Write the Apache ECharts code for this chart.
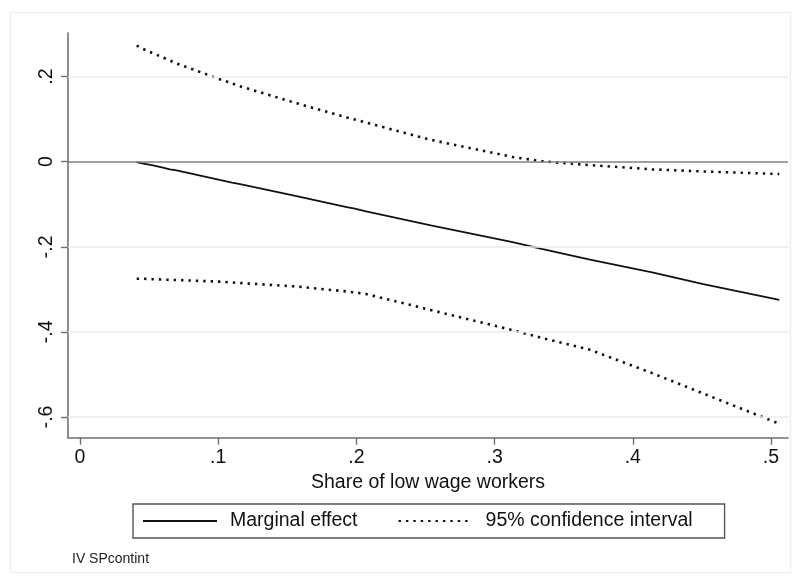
<!DOCTYPE html>
<html>
<head>
<meta charset="utf-8">
<script src="https://cdn.jsdelivr.net/npm/echarts@6/dist/echarts.min.js"></script>
<style>
html,body{margin:0;padding:0;background:#fff;}
#chart{width:801px;height:584px;}
</style>
</head>
<body>
<div id="chart"></div>
<script>
// ---- data ----
const shareLowWage = [0.041, 0.045, 0.052, 0.060, 0.065, 0.069, 0.101, 0.110, 0.115, 0.155,
                      0.193, 0.198, 0.207, 0.253, 0.313, 0.334, 0.369, 0.414, 0.451, 0.506];
const marginalEffect = [-0.001, -0.004, -0.008, -0.014, -0.018, -0.020, -0.043, -0.049, -0.052, -0.080,
                        -0.107, -0.110, -0.117, -0.149, -0.189, -0.205, -0.230, -0.260, -0.288, -0.325];
const ciUpper = [0.273, 0.266, 0.256, 0.245, 0.238, 0.232, 0.194, 0.184, 0.178, 0.139,
                 0.104, 0.100, 0.092, 0.052, 0.011, 0.001, -0.008, -0.018, -0.023, -0.029];
const ciLower = [-0.275, -0.275, -0.276, -0.277, -0.278, -0.278, -0.282, -0.284, -0.285, -0.293,
                 -0.305, -0.307, -0.311, -0.348, -0.396, -0.414, -0.442, -0.497, -0.545, -0.616];
const xTickValues = [0, 0.1, 0.2, 0.3, 0.4, 0.5];
const yTickValues = [-0.6, -0.4, -0.2, 0, 0.2];
const xTitle = 'Share of low wage workers';
const legendNames = ['Marginal effect', '95% confidence interval'];
const noteText = 'IV SPcontint';

function stataFmt(v) {
  const r = Math.round(v * 10) / 10;
  if (r === 0) return '0';
  return (r < 0 ? '-' : '') + String(Math.abs(r)).replace(/^0/, '');
}
const pairs = (ys) => shareLowWage.map((x, i) => [x, ys[i]]);

const FONT = '"Liberation Sans", Arial, Helvetica, sans-serif';
const AXIS_GRAY = '#707070';
const INK = '#111111';
const FS = 19.5;

const chart = echarts.init(document.getElementById('chart'), null, {renderer: 'canvas'});
chart.setOption({
  backgroundColor: '#ffffff',
  animation: false,
  textStyle: {fontFamily: FONT},
  grid: {left: 68, top: 33, width: 720, height: 404.7},
  xAxis: {
    type: 'value',
    min: -0.0087, max: 0.5123,
    name: xTitle,
    nameLocation: 'middle',
    nameGap: 33,
    nameTextStyle: {fontFamily: FONT, fontSize: FS, color: INK},
    axisLine: {show: true, onZero: false, lineStyle: {color: AXIS_GRAY, width: 1.6}},
    axisTick: {show: true, length: 7, customValues: xTickValues, lineStyle: {color: AXIS_GRAY, width: 1.4}},
    axisLabel: {customValues: xTickValues, formatter: stataFmt, margin: 10,
                fontFamily: FONT, fontSize: FS, color: INK},
    splitLine: {show: false}
  },
  yAxis: {
    type: 'value',
    min: -0.6488, max: 0.3025,
    axisLine: {show: true, onZero: false, lineStyle: {color: AXIS_GRAY, width: 1.6}},
    axisTick: {show: true, length: 7, customValues: yTickValues, lineStyle: {color: AXIS_GRAY, width: 1.4}},
    axisLabel: {customValues: yTickValues, formatter: stataFmt, rotate: 90, margin: 11,
                fontFamily: FONT, fontSize: FS, color: INK},
    splitLine: {show: false}
  },
  legend: {
    data: legendNames,
    orient: 'horizontal',
    left: 133, top: 504,
    padding: [7, 32, 7, 9],
    itemGap: 40,
    itemWidth: 74,
    itemHeight: 14,
    borderColor: '#555555',
    borderWidth: 1.4,
    borderRadius: 0,
    itemStyle: {color: 'rgba(0,0,0,0)', borderWidth: 0, opacity: 0},
    textStyle: {fontFamily: FONT, fontSize: FS, color: INK, padding: [0, 0, 0, 8]}
  },
  graphic: [
    {type: 'rect', silent: true, z: -10,
     shape: {x: 10.5, y: 12.5, width: 780, height: 560},
     style: {fill: 'none', stroke: '#efefef', lineWidth: 1.5}},
    {type: 'text', left: 72, top: 552,
     style: {text: noteText, font: '14px ' + FONT, fill: '#222222'}}
  ],
  series: [
    {
      name: 'grid',
      type: 'line',
      data: [],
      z: 1,
      silent: true,
      markLine: {
        silent: true, symbol: 'none', label: {show: false},
        data: yTickValues.filter(v => v !== 0).map(v => ({yAxis: v, lineStyle: {color: '#ebebeb', width: 1.6, type: 'solid'}}))
              .concat([{yAxis: 0, lineStyle: {color: '#808080', width: 1.6, type: 'solid'}}])
      }
    },
    {
      name: legendNames[1],
      type: 'line',
      data: pairs(ciUpper),
      showSymbol: false, symbol: 'none',
      z: 3,
      lineStyle: {color: INK, width: 2.6, type: [2.4, 5], cap: 'butt'},
      itemStyle: {color: INK}
    },
    {
      name: legendNames[1],
      type: 'line',
      data: pairs(ciLower),
      showSymbol: false, symbol: 'none',
      z: 3,
      lineStyle: {color: INK, width: 2.6, type: [2.4, 5], cap: 'butt'},
      itemStyle: {color: INK}
    },
    {
      name: legendNames[0],
      type: 'line',
      data: pairs(marginalEffect),
      showSymbol: false, symbol: 'none',
      z: 4,
      lineStyle: {color: INK, width: 1.8, type: 'solid'},
      itemStyle: {color: INK}
    }
  ]
});
</script>
</body>
</html>
